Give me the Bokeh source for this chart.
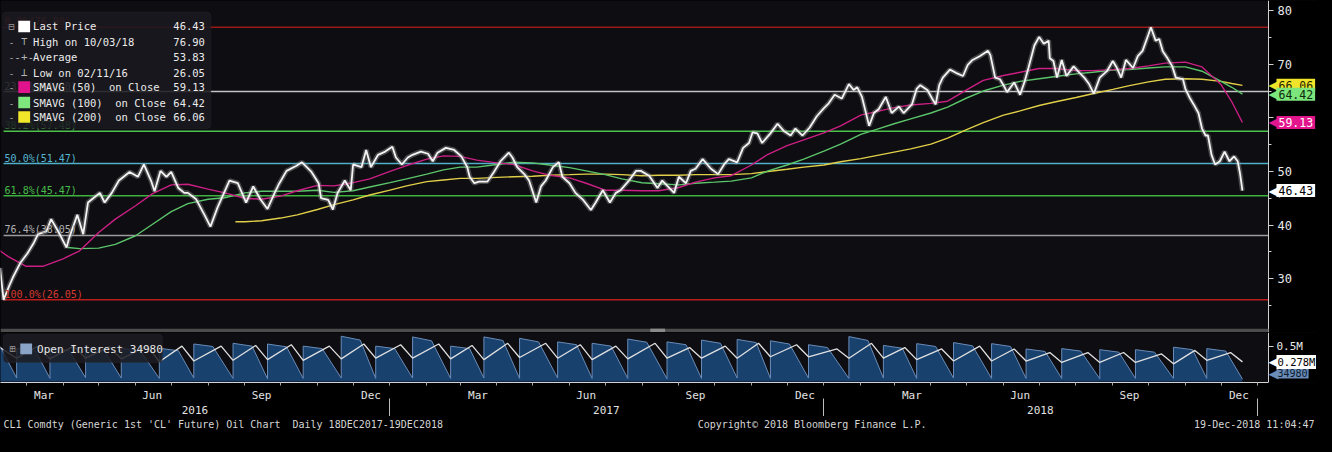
import pandas as pd
from bokeh.plotting import figure
from bokeh.models import Range1d, LinearAxis, FixedTicker, Label, BoxAnnotation, ColumnDataSource
from bokeh.layouts import column
from bokeh.embed import file_html
from bokeh.resources import INLINE

# ---------------------------------------------------------------- data
price_dates = [
 "2016-02-08","2016-02-09","2016-02-11","2016-02-16","2016-02-19","2016-02-25","2016-03-02","2016-03-07",
 "2016-03-11","2016-03-18","2016-03-22","2016-03-28","2016-04-04","2016-04-06","2016-04-13","2016-04-18",
 "2016-04-22","2016-05-02","2016-05-06","2016-05-12","2016-05-18","2016-05-27","2016-06-03","2016-06-08",
 "2016-06-14","2016-06-17","2016-06-22","2016-06-27","2016-07-01","2016-07-07","2016-07-12","2016-07-15",
 "2016-07-22","2016-07-29","2016-08-03","2016-08-09","2016-08-19","2016-08-26","2016-09-02","2016-09-08",
 "2016-09-14","2016-09-20","2016-09-26","2016-09-30","2016-10-06","2016-10-14","2016-10-19","2016-10-27",
 "2016-11-02","2016-11-04","2016-11-10","2016-11-14","2016-11-18","2016-11-24","2016-11-29","2016-12-01",
 "2016-12-08","2016-12-12","2016-12-16","2016-12-22","2016-12-28","2017-01-03","2017-01-06","2017-01-11",
 "2017-01-16","2017-01-20","2017-01-27","2017-02-02","2017-02-06","2017-02-10","2017-02-17","2017-02-24",
 "2017-03-02","2017-03-07","2017-03-09","2017-03-13","2017-03-17","2017-03-24","2017-03-30","2017-04-04",
 "2017-04-11","2017-04-14","2017-04-18","2017-04-24","2017-04-28","2017-05-04","2017-05-08","2017-05-12",
 "2017-05-18","2017-05-23","2017-05-26","2017-06-01","2017-06-06","2017-06-12","2017-06-19","2017-06-23",
 "2017-06-29","2017-07-05","2017-07-10","2017-07-14","2017-07-21","2017-07-27","2017-07-31","2017-08-07",
 "2017-08-14","2017-08-18","2017-08-28","2017-09-01","2017-09-07","2017-09-11","2017-09-15","2017-09-21",
 "2017-09-28","2017-10-04","2017-10-09","2017-10-13","2017-10-20","2017-10-25","2017-10-30","2017-11-02",
 "2017-11-06","2017-11-10","2017-11-17","2017-11-23","2017-11-28","2017-12-04","2017-12-08","2017-12-14",
 "2017-12-20","2017-12-26","2018-01-01","2018-01-05","2018-01-10","2018-01-16","2018-01-22","2018-01-26",
 "2018-01-29","2018-02-02","2018-02-05","2018-02-08","2018-02-12","2018-02-16","2018-02-22","2018-02-27",
 "2018-03-05","2018-03-09","2018-03-16","2018-03-20","2018-03-23","2018-03-29","2018-04-02","2018-04-05",
 "2018-04-08","2018-04-11","2018-04-17","2018-04-22","2018-04-28","2018-05-02","2018-05-06","2018-05-12",
 "2018-05-19","2018-05-21","2018-05-25","2018-05-29","2018-06-02","2018-06-04","2018-06-10","2018-06-15",
 "2018-06-19","2018-06-22","2018-06-27","2018-07-01","2018-07-05","2018-07-09","2018-07-10","2018-07-13",
 "2018-07-16","2018-07-20","2018-07-24","2018-07-30","2018-08-04","2018-08-08","2018-08-12","2018-08-16",
 "2018-08-21","2018-08-27","2018-09-01","2018-09-04","2018-09-08","2018-09-12","2018-09-18","2018-09-22",
 "2018-09-26","2018-10-01","2018-10-03","2018-10-07","2018-10-10","2018-10-13","2018-10-17","2018-10-21",
 "2018-10-24","2018-10-30","2018-11-01","2018-11-05","2018-11-08","2018-11-12","2018-11-15","2018-11-18",
 "2018-11-20","2018-11-23","2018-11-26","2018-11-30","2018-12-04","2018-12-08","2018-12-12","2018-12-15",
 "2018-12-17","2018-12-19"]
price_close = [
 32.0,30.0,26.05,28.8,30.3,32.9,34.7,36.5,
 38.3,38.8,41.1,38.8,35.8,37.5,41.9,38.3,
 44.2,46.0,44.2,46.0,48.3,49.9,49.0,51.3,
 48.3,46.3,50.1,49.0,49.9,46.9,46.0,46.0,
 44.8,41.9,39.7,43.3,48.3,47.8,44.2,47.2,
 44.8,43.0,46.0,47.8,50.1,51.0,51.7,49.9,
 47.8,45.0,44.7,42.9,46.0,48.3,46.5,51.3,
 50.8,54.0,50.8,53.1,53.7,54.6,52.6,51.3,
 52.6,53.1,53.7,53.3,51.9,53.5,54.4,54.0,
 52.8,50.8,49.0,47.8,48.1,48.1,50.1,51.9,
 53.5,52.6,50.8,49.5,48.3,44.2,47.2,48.3,
 50.8,51.7,49.0,47.8,46.0,44.8,42.8,44.2,
 46.5,44.2,46.0,46.5,48.3,50.1,50.1,49.2,
 46.9,48.3,46.0,49.0,47.8,50.1,50.5,52.3,
 50.5,49.5,51.3,52.3,51.7,54.4,55.3,57.3,
 57.1,55.3,57.1,58.9,57.6,56.7,58.0,56.7,
 58.2,60.3,61.8,62.7,64.3,63.6,66.3,65.2,
 65.7,63.9,61.2,58.5,60.9,61.6,63.9,60.9,
 62.1,60.9,62.5,65.4,66.1,65.2,63.6,62.5,
 66.1,67.5,69.0,68.4,67.8,69.9,70.8,71.5,
 72.5,71.7,67.5,67.2,65.7,64.8,66.6,64.3,
 66.9,69.3,73.5,75.1,73.8,74.4,71.1,70.6,
 67.5,70.8,67.8,69.6,68.4,67.5,66.3,64.5,
 67.5,68.7,70.6,69.5,67.5,70.8,69.3,71.5,
 72.5,75.6,76.9,74.4,74.7,72.4,71.1,69.6,
 67.5,67.2,65.4,63.6,62.5,60.9,58.0,56.7,
 56.7,53.1,51.3,51.9,53.7,51.9,52.8,51.9,
 49.6,46.43]

sma_dates = [
 "2016-02-08","2016-02-15","2016-03-01","2016-03-15","2016-04-01","2016-04-15","2016-05-01","2016-05-15",
 "2016-06-01","2016-06-15","2016-07-01","2016-07-15","2016-08-01","2016-08-15","2016-09-01","2016-09-15",
 "2016-10-01","2016-10-15","2016-11-01","2016-11-15","2016-12-01","2016-12-15","2017-01-01","2017-01-15",
 "2017-02-01","2017-02-15","2017-03-01","2017-03-15","2017-04-01","2017-04-15","2017-05-01","2017-05-15",
 "2017-06-01","2017-06-15","2017-07-01","2017-07-15","2017-08-01","2017-08-15","2017-09-01","2017-09-15",
 "2017-10-01","2017-10-15","2017-11-01","2017-11-15","2017-12-01","2017-12-15","2018-01-01","2018-01-15",
 "2018-02-01","2018-02-15","2018-03-01","2018-03-15","2018-04-01","2018-04-15","2018-05-01","2018-05-15",
 "2018-06-01","2018-06-15","2018-07-01","2018-07-15","2018-08-01","2018-08-15","2018-09-01","2018-09-15",
 "2018-10-01","2018-10-15","2018-11-01","2018-11-15","2018-12-01","2018-12-10","2018-12-19"]
sma50 = [
 35.2,34.1,32.3,32.3,33.7,35.2,38.6,41.1,
 43.6,45.8,47.5,47.6,46.7,46.0,45.0,44.8,
 45.4,46.4,47.4,47.3,47.9,48.6,50.0,51.1,
 52.3,52.9,52.8,52.1,51.6,51.3,50.1,49.3,
 48.8,47.8,46.5,46.5,46.4,46.4,47.0,48.0,
 48.8,49.2,51.2,53.2,54.8,55.9,57.2,58.5,
 60.5,61.2,61.9,62.4,62.7,63.1,65.2,67.0,
 67.9,68.5,69.2,69.2,68.8,68.8,69.0,69.2,
 69.7,70.2,70.4,69.5,66.2,63.0,59.13]

sma100_dates = ["2016-04-05"] + sma_dates[5:]
sma100 = [
 35.8,35.6,35.7,36.4,
 38.0,40.1,42.5,44.0,44.8,45.1,46.0,46.3,
 46.3,46.3,46.5,46.1,46.4,47.1,47.9,48.6,
 49.5,50.3,50.8,50.8,51.3,51.7,51.6,51.2,
 50.7,50.1,49.4,48.6,47.9,47.7,47.5,47.8,
 48.0,48.2,48.8,50.1,51.2,52.3,53.8,55.1,
 56.9,57.9,58.9,59.8,60.9,62.0,63.7,65.0,
 66.1,66.8,67.3,67.7,68.2,68.5,68.9,69.0,
 69.3,69.5,69.5,68.7,66.8,65.7,64.42]

sma200_dates = ["2016-08-24"] + sma_dates[14:]
sma200 = [
 40.6,40.6,40.8,
 41.3,41.9,42.9,43.8,44.7,45.6,46.5,47.3,
 48.1,48.4,48.7,48.7,48.9,49.0,49.1,49.3,
 49.4,49.5,49.5,49.4,49.2,49.3,49.3,49.4,
 49.4,49.4,49.6,50.0,50.4,50.8,51.2,51.8,
 52.4,53.0,53.6,54.2,55.1,56.2,57.8,59.1,
 60.5,61.3,62.3,63.0,63.8,64.5,65.3,66.0,
 66.7,67.2,67.3,67.2,66.8,66.4,66.06]

low_date = "2016-02-11"
fib_pct = ["0.0%", "23.6%", "38.2%", "50.0%", "61.8%", "76.4%", "100.0%"]
fib_vals = [76.90, 64.90, 57.48, 51.47, 45.47, 38.05, 26.05]

NB = "\u00a0"
legend_names = ["Last Price", "High on 10/03/18", "Average", "Low on 02/11/16",
                "SMAVG (50) " + NB + "on Close", "SMAVG (100) " + NB + "on Close",
                "SMAVG (200) " + NB + "on Close"]
legend_values = ["46.43", "76.90", "53.83", "26.05", "59.13", "64.42", "66.06"]

y_ticks = [30, 40, 50, 60, 70, 80]
y_minor = [25, 35, 45, 55, 65, 75]

# open interest (thousands of contracts)
oi_start_date, oi_start = "2016-02-08", 500
oi_end_date, oi_end = "2018-12-19", 34.98
oi_roll_dates = [
 "2016-02-22","2016-03-21","2016-04-20","2016-05-20","2016-06-21","2016-07-20","2016-08-22","2016-09-20",
 "2016-10-20","2016-11-21","2016-12-20","2017-01-20","2017-02-21","2017-03-21","2017-04-20","2017-05-22",
 "2017-06-20","2017-07-20","2017-08-22","2017-09-20","2017-10-20","2017-11-17","2017-12-19","2018-01-22",
 "2018-02-20","2018-03-20","2018-04-20","2018-05-22","2018-06-20","2018-07-20","2018-08-21","2018-09-20",
 "2018-10-22","2018-11-19"]
oi_before_roll = [50,45,55,50,45,50,45,40,45,50,45,50,45,50,45,50,45,45,40,45,50,45,50,45,50,45,50,45,45,45,40,45,45,45]
oi_after_roll = [470,480,470,470,470,530,540,530,500,640,500,630,500,630,610,560,540,600,560,585,595,575,520,635,510,535,550,535,460,465,450,450,485,465]
oi_turn_dates = [
 "2016-03-09","2016-04-06","2016-05-06","2016-06-05","2016-07-07","2016-08-05","2016-09-07","2016-10-06",
 "2016-11-05","2016-12-07","2017-01-05","2017-02-05","2017-03-09","2017-04-06","2017-05-06","2017-06-07",
 "2017-07-06","2017-08-05","2017-09-07","2017-10-06","2017-11-05","2017-12-03","2018-01-04","2018-02-07",
 "2018-03-08","2018-04-05","2018-05-06","2018-06-07","2018-07-06","2018-08-05","2018-09-06","2018-10-06",
 "2018-11-07","2018-12-05"]
oi_turn = [430,440,430,435,435,495,500,490,465,585,465,575,465,580,560,520,500,555,520,540,550,530,480,580,470,495,505,495,425,430,415,415,450,430]

oi2_start = 480
oi2_end = 278
oi2_trough = [330,320,330,320,280,290,300,310,300,320,330,330,320,310,340,330,310,320,330,330,330,350,350,330,330,310,290,290,290,270,270,270,250,300]
oi2_peak_dates = [
 "2016-03-11","2016-04-10","2016-05-10","2016-06-11","2016-07-10","2016-08-12","2016-09-10","2016-10-10",
 "2016-11-11","2016-12-10","2017-01-10","2017-02-11","2017-03-11","2017-04-10","2017-05-12","2017-06-10",
 "2017-07-10","2017-08-12","2017-09-10","2017-10-10","2017-11-07","2017-12-09","2018-01-12","2018-02-10",
 "2018-03-10","2018-04-10","2018-05-12","2018-06-10","2018-07-10","2018-08-11","2018-09-10","2018-10-12",
 "2018-11-09","2018-12-09"]
oi2_peak = [500,500,490,500,500,500,510,520,500,530,520,530,510,540,540,520,500,540,480,500,540,520,460,540,480,460,500,460,410,410,410,390,440,410]

month_label_dates = ["2016-03-16","2016-06-15","2016-09-15","2016-12-16","2017-03-16","2017-06-15",
                     "2017-09-15","2017-12-16","2018-03-16","2018-06-15","2018-09-15","2018-12-16"]
month_label_text = ["Mar","Jun","Sep","Dec"] * 3
year_label_dates = ["2016-07-21", "2017-07-02", "2018-07-02"]
year_label_text = ["2016", "2017", "2018"]
year_starts = ["2017-01-01", "2018-01-01", "2019-01-01"]

footer_left = "CL1 Comdty (Generic 1st 'CL' Future) Oil Chart " + NB + "Daily 18DEC2017-19DEC2018"
footer_mid = "Copyright\u00a9 2018 Bloomberg Finance L.P."
footer_right = "19-Dec-2018 11:04:47"

# ---------------------------------------------------------------- helpers
FONT = "DejaVu Sans Mono"
BG = "#0d0d12"

def ms(d):
    return pd.Timestamp(d).value / 1e6

def ms_list(lst):
    return [ms(d) for d in lst]

FW, W = 1268, 1316
X0 = ms("2016-02-08 10:00")
X1 = ms("2019-01-09 22:00")            # right edge of the chart area (price axis position)
XE = X0 + (X1 - X0) * W / FW           # frame extends under the right axis column
SX = FW / 1284.0

def sx(px):
    return px * SX

MAIN_H = 332
Y_TOP, Y_BOT = 81.89, 19.95

def vy(py):
    return Y_TOP - py * (Y_TOP - Y_BOT) / 345.0

OI_FH = 50
YO_TOP, YO_BOT = 692.3, -12.8

def vo(py):
    return (399 - py) / 78.0 * 1000.0

# ---------------------------------------------------------------- main price panel
p = figure(width=W, height=MAIN_H, x_range=Range1d(X0, XE), y_range=Range1d(Y_BOT, Y_TOP),
           toolbar_location=None, output_backend="svg", x_axis_location=None, y_axis_location=None,
           min_border=0, background_fill_color=BG, border_fill_color="black",
           outline_line_color=None)
p.xgrid.visible = False
p.ygrid.visible = False

# black column to the right of the chart area (under the axis)
p.add_layout(BoxAnnotation(left=X1, right=XE, fill_color="black", fill_alpha=1, line_color=None,
                           level="underlay"))

yax = LinearAxis(ticker=FixedTicker(ticks=y_ticks, minor_ticks=y_minor), fixed_location=X1,
                 major_label_overrides={60: ""},
                 axis_line_color="#d0d0d0", major_tick_line_color="#d0d0d0",
                 major_tick_in=0, major_tick_out=5, minor_tick_line_color="#d0d0d0",
                 minor_tick_in=0, minor_tick_out=3, major_label_text_color="#e8e8e8",
                 major_label_text_font=FONT, major_label_text_font_size="12px",
                 major_label_standoff=4)
p.add_layout(yax, "right")

fib_line_colors = ["#9a1a1a", "#c4c4c4", "#4cc24c", "#4fb0c8", "#3fb23f", "#9c9c9c", "#b81c1c"]
fib_text_colors = ["#c83030", "#d0d0d0", "#52c852", "#56b6d0", "#48bc48", "#b0b0b0", "#d83a30"]
fib_src = ColumnDataSource(dict(x0=[ms(low_date)] * len(fib_vals), x1=[X1] * len(fib_vals),
                                y=fib_vals, c=fib_line_colors))
p.segment(x0="x0", y0="y", x1="x1", y1="y", line_color="c", line_width=1.5, source=fib_src)

p.line(ms_list(sma200_dates), sma200, line_color="#e2cf48", line_width=1.4)
p.line(ms_list(sma100_dates), sma100, line_color="#5cc46a", line_width=1.4)
p.line(ms_list(sma_dates), sma50, line_color="#cc1f84", line_width=1.4)

px_ = ms_list(price_dates)
p.line(px_, price_close, line_color="#a0a0a0", line_width=5, line_alpha=0.4)
p.line(px_, price_close, line_color="#f4f4f4", line_width=1.8)

for pct, v, c in zip(fib_pct, fib_vals, fib_text_colors):
    p.add_layout(Label(x=ms(low_date), x_offset=1, y=v, text="%s(%.2f)" % (pct, v),
                       text_baseline="bottom", text_color=c, text_font=FONT,
                       text_font_size="10px"))

# separator band at bottom of price panel
p.add_layout(BoxAnnotation(left=X0, right=X1, bottom=Y_BOT, top=vy(341), fill_color="#4c4c4c",
                           fill_alpha=1, line_color=None))
p.add_layout(BoxAnnotation(left=sx(658), right=sx(673), left_units="screen", right_units="screen",
                           bottom=Y_BOT, top=vy(341), fill_color="#8a8a8a", fill_alpha=1,
                           line_color=None))

# legend box
p.add_layout(BoxAnnotation(left=sx(2), right=sx(213), left_units="screen", right_units="screen",
                           top=vy(12), bottom=vy(133), fill_color="#19191f", fill_alpha=0.88,
                           line_color="#2e2e36", line_width=1, border_radius=4))
row_y = [27, 43, 59, 75, 90, 106, 121]
icon_colors = ["#ffffff", None, None, None, "#e0138c", "#7ee87e", "#f2e62a"]
icon_text = [None, "\u22a4", "-+-", "\u22a5", None, None, None]
for i, (nm, val) in enumerate(zip(legend_names, legend_values)):
    ry = row_y[i]
    p.add_layout(Label(x=sx(8), x_units="screen", y=vy(ry), text="\u229f" if i == 0 else "-",
                       text_baseline="middle", text_color="#9a9a9a", text_font=FONT,
                       text_font_size="10px"))
    if icon_colors[i]:
        p.add_layout(BoxAnnotation(left=sx(18), right=sx(30), left_units="screen",
                                   right_units="screen", top=vy(ry - 6), bottom=vy(ry + 6),
                                   fill_color=icon_colors[i], fill_alpha=1, line_color=None))
    else:
        p.add_layout(Label(x=sx(24), x_units="screen", y=vy(ry), text=icon_text[i],
                           text_align="center", text_baseline="middle", text_color="#b4b4b4",
                           text_font=FONT, text_font_size="11px"))
    p.add_layout(Label(x=sx(33), x_units="screen", y=vy(ry), text=nm, text_baseline="middle",
                       text_color="#ececec", text_font=FONT, text_font_size="10.5px"))
    p.add_layout(Label(x=sx(207), x_units="screen", y=vy(ry), text=val, text_align="right",
                       text_baseline="middle", text_color="#ececec", text_font=FONT,
                       text_font_size="10.5px"))

# value tags on the right axis
tags = [(66.06, "66.06", "#f0e42a", "#1e1e00"),
        (64.42, "64.42", "#7ce67c", "#0c2a0c"),
        (59.13, "59.13", "#e2158c", "#ffffff"),
        (46.43, "46.43", "#ffffff", "#000000")]
for v, t, bgc, tc in tags:
    p.add_layout(Label(x=X1, x_offset=0, y=v, text="\u25c0", text_baseline="middle",
                       text_color=bgc, text_font="DejaVu Sans", text_font_size="15px"))
    p.add_layout(Label(x=X1, x_offset=8, y=v, text=t, text_baseline="middle", text_color=tc,
                       text_font=FONT, text_font_size="11.5px", background_fill_color=bgc,
                       background_fill_alpha=1, padding=2))

# ---------------------------------------------------------------- open interest panel
q = figure(frame_width=W, frame_height=OI_FH, x_range=p.x_range, y_range=Range1d(YO_BOT, YO_TOP),
           toolbar_location=None, output_backend="svg", x_axis_location=None, y_axis_location=None,
           min_border=0, background_fill_color=BG, border_fill_color="black",
           outline_line_color=None)
q.xgrid.visible = False
q.ygrid.visible = False
q.add_layout(BoxAnnotation(left=X1, right=XE, fill_color="black", fill_alpha=1, line_color=None,
                           level="underlay"))

oi_x = [ms(oi_start_date)]
oi_y = [oi_start]
for d, lo, pk, td, tv in zip(oi_roll_dates, oi_before_roll, oi_after_roll, oi_turn_dates, oi_turn):
    oi_x += [ms(d), ms(d), ms(td)]
    oi_y += [lo, pk, tv]
oi_x.append(ms(oi_end_date))
oi_y.append(oi_end)

oi2_x = [ms(oi_start_date)]
oi2_y = [oi2_start]
for d, lo, pd_, pk in zip(oi_roll_dates, oi2_trough, oi2_peak_dates, oi2_peak):
    oi2_x += [ms(d), ms(pd_)]
    oi2_y += [lo, pk]
oi2_x.append(ms(oi_end_date))
oi2_y.append(oi2_end)

q.varea(x=oi_x, y1=[0] * len(oi_x), y2=oi_y, fill_color="#19416e", fill_alpha=1)
q.line(oi_x, oi_y, line_color="#6a8cb8", line_width=1)
q.line(oi2_x, oi2_y, line_color="#e0e0e0", line_width=1.3)

oax = LinearAxis(ticker=FixedTicker(ticks=[500]), fixed_location=X1,
                 major_label_overrides={500: "0.5M"},
                 axis_line_color="#d0d0d0", major_tick_line_color="#d0d0d0", major_tick_in=0,
                 major_tick_out=5, minor_tick_line_color=None, major_label_text_color="#e8e8e8",
                 major_label_text_font=FONT, major_label_text_font_size="11px",
                 major_label_standoff=3)
q.add_layout(oax, "right")

m_ticks = ms_list(month_label_dates)
month_starts = [ms(d) for d in pd.date_range("2016-03-01", "2019-01-01", freq="MS")]
max_ = LinearAxis(ticker=FixedTicker(ticks=m_ticks, minor_ticks=month_starts), bounds=(X0, X1),
                  major_label_overrides={t: s for t, s in zip(m_ticks, month_label_text)},
                  axis_line_color="#d4d4d4", major_tick_line_color=None, major_tick_out=0,
                  minor_tick_line_color="#a8a8a8", minor_tick_in=0, minor_tick_out=3,
                  major_label_text_color="#e2e2e2", major_label_text_font=FONT,
                  major_label_text_font_size="11px", major_label_standoff=3)
q.add_layout(max_, "below")

y_lab = ms_list(year_label_dates)
yr_ax = LinearAxis(ticker=FixedTicker(ticks=y_lab, minor_ticks=ms_list(year_starts)),
                   bounds=(X0, X1),
                   major_label_overrides={t: s for t, s in zip(y_lab, year_label_text)},
                   axis_line_color=None, major_tick_line_color=None, major_tick_out=0,
                   minor_tick_line_color="#bdbdbd", minor_tick_in=6, minor_tick_out=14,
                   major_label_text_color="#e2e2e2",
                   major_label_text_font=FONT, major_label_text_font_size="11px",
                   major_label_standoff=-13)
q.add_layout(yr_ax, "below")

# OI legend
q.add_layout(BoxAnnotation(left=sx(3), right=sx(164), left_units="screen", right_units="screen",
                           top=vo(347), bottom=vo(378), fill_color="#1c1c22", fill_alpha=0.85,
                           line_color="#2e2e36", border_radius=4))
q.add_layout(Label(x=sx(9), x_units="screen", y=vo(363), text="\u229e", text_baseline="middle",
                   text_color="#9a9a9a", text_font=FONT, text_font_size="10px"))
q.add_layout(BoxAnnotation(left=sx(20), right=sx(32), left_units="screen", right_units="screen",
                           top=vo(357), bottom=vo(369), fill_color="#8aa4c8", fill_alpha=1,
                           line_color=None))
q.add_layout(Label(x=sx(37), x_units="screen", y=vo(364), text="Open Interest 34980",
                   text_baseline="middle", text_color="#e6e6e6", text_font=FONT,
                   text_font_size="11px"))

# tags: the low value tag is lifted so it stays inside the panel (as the reference does)
for v, t, bgc, tc, fs in [(oi_end + 80, "34980", "#6a8cb6", "#0c1a30", "10px"),
                          (oi2_end, "0.278M", "#ffffff", "#000000", "10.5px")]:
    q.add_layout(Label(x=X1, x_offset=0, y=v, text="\u25c0", text_baseline="middle",
                       text_color=bgc, text_font="DejaVu Sans", text_font_size="13px"))
    q.add_layout(Label(x=X1, x_offset=8, y=v, text=t, text_baseline="middle", text_color=tc,
                       text_font=FONT, text_font_size=fs, background_fill_color=bgc,
                       background_fill_alpha=1, padding=1))

# ---------------------------------------------------------------- footer
f = figure(width=W, height=16, x_range=Range1d(0, W), y_range=Range1d(0, 1),
           toolbar_location=None, output_backend="svg", x_axis_location=None, y_axis_location=None,
           min_border=0, background_fill_color="black", border_fill_color="black",
           outline_line_color=None)
f.xgrid.visible = False
f.ygrid.visible = False
for xx, t, al in [(3, footer_left, "left"), (sx(706), footer_mid, "left"), (W - 2, footer_right, "right")]:
    f.add_layout(Label(x=xx, y=0.5, text=t, text_align=al, text_baseline="middle",
                       text_color="#d6d6d6", text_font=FONT, text_font_size="10px"))

layout = column(p, q, f, spacing=0, styles={"background-color": "black"})
try:
    from bokeh.models import GlobalInlineStyleSheet
    layout.stylesheets = [GlobalInlineStyleSheet(css="html, body { background-color: #000000; }")]
except Exception:
    pass

open("out.html", "w").write(file_html(layout, INLINE))
